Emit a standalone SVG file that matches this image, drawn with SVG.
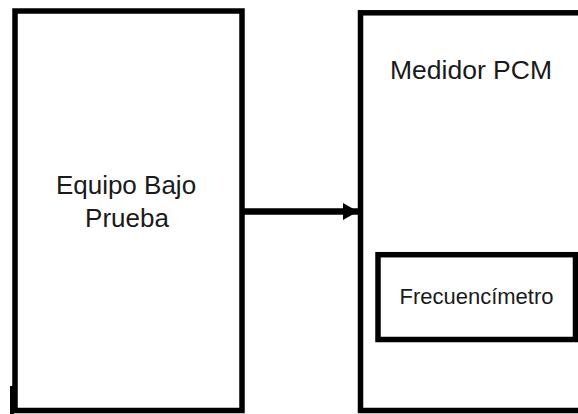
<svg xmlns="http://www.w3.org/2000/svg" width="578" height="414" viewBox="0 0 578 414">
<style>
.box{fill:#fff;stroke:#000;stroke-width:5.5}
.t{font-family:"Liberation Sans",Arial,sans-serif;fill:#1a1a1a}
</style>
<defs>
<marker id="ah" markerWidth="16" markerHeight="18" refX="15" refY="8.5" markerUnits="userSpaceOnUse" orient="auto">
<path d="M0,0 L15,8.5 L0,17 Z" fill="#000"/>
</marker>
</defs>
<rect width="578" height="414" fill="#fff"/>
<g id="equipo">
<rect class="box" x="15" y="11" width="227" height="399.5"/>
<rect x="10" y="386" width="4" height="28" fill="#000"/>
<text class="t" x="126" y="194" font-size="26" text-anchor="middle">Equipo Bajo</text>
<text class="t" x="127" y="227" font-size="26" text-anchor="middle">Prueba</text>
</g>
<g id="medidor">
<rect class="box" x="360.5" y="12.8" width="230" height="397.7"/>
<text class="t" x="390" y="79" font-size="26.5">Medidor PCM</text>
</g>
<g id="frecuencimetro">
<rect class="box" x="378" y="254.7" width="197.5" height="84.8"/>
<text class="t" x="476.5" y="304" font-size="22" text-anchor="middle">Frecuencímetro</text>
</g>
<g id="connectors">
<line x1="242" y1="211.5" x2="358" y2="211.5" stroke="#000" stroke-width="6.5" marker-end="url(#ah)"/>
</g>
</svg>
